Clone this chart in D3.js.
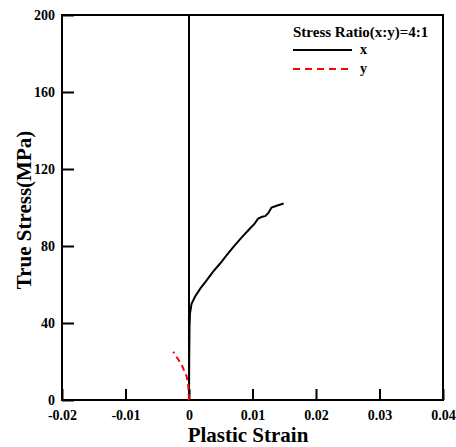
<!DOCTYPE html>
<html>
<head>
<meta charset="utf-8">
<title>True Stress vs Plastic Strain</title>
<style>
  body { margin: 0; background: white; }
  svg { display: block; }
  text { font-family: "Liberation Serif", "Times New Roman", serif; font-weight: bold; fill: black; }
</style>
<script src="https://d3js.org/d3.v7.min.js"></script>
</head>
<body>
<script>
let width = 456
let height = 447
let margin = {left: 62, right: 13, top: 15, bottom: 47}

// data
let xTicks = [-0.02, -0.01, 0, 0.01, 0.02, 0.03, 0.04]
let yTicks = [0, 40, 80, 120, 160, 200]
let zeroLine = [[0, 0], [0, 200]]
let xStrain = [0, 0.00003, 0.00008, 0.00016, 0.0004, 0.00094, 0.0018, 0.0028, 0.0038, 0.0049, 0.006, 0.007, 0.0083, 0.0096, 0.0103, 0.0109, 0.0115, 0.012, 0.0125, 0.013, 0.0138, 0.0149]
let xStress = [0, 20, 38, 45, 50, 53.6, 58, 62.3, 66.7, 70.9, 75.5, 79.6, 84.5, 89.1, 91.5, 94.3, 95.2, 95.5, 97.2, 100.0, 100.9, 102.1]
let yStrain = [0, -0.00004, -0.00011, -0.00036, -0.00115, -0.00247]
let yStress = [0, 3, 6.9, 12.1, 18.2, 25.1]

let svg = d3.select("body").append("svg")
    .attr("width", width)
    .attr("height", height)

let xScale = d3.scaleLinear().domain([-0.02, 0.04]).range([margin.left, width - margin.right])
let yScale = d3.scaleLinear().domain([0, 200]).range([height - margin.bottom, margin.top])

let fmt = d => String(d)

let styleTicks = (g) => {
    g.select(".domain").remove()
    g.selectAll(".tick line").attr("stroke", "black").attr("stroke-width", 2)
    g.selectAll("text")
        .style("font-family", "'Liberation Serif', serif")
        .style("font-weight", "bold")
        .style("font-size", "14px")
        .style("fill", "black")
}

// x axis (ticks inside)
let xAxis = d3.axisBottom(xScale).tickValues(xTicks).tickSizeInner(-11).tickSizeOuter(0).tickPadding(10).tickFormat(fmt)
let gx = svg.append("g")
    .attr("transform", `translate(0,${yScale(0)})`)
    .call(xAxis)
styleTicks(gx)

let yAxis = d3.axisLeft(yScale).tickValues(yTicks).tickSizeInner(-12).tickSizeOuter(0).tickPadding(7).tickFormat(fmt)
let gy = svg.append("g")
    .attr("transform", `translate(${xScale(-0.02)},0)`)
    .call(yAxis)
styleTicks(gy)

// frame
svg.append("rect")
    .attr("x", xScale(-0.02))
    .attr("y", yScale(200))
    .attr("width", xScale(0.04) - xScale(-0.02))
    .attr("height", yScale(0) - yScale(200))
    .attr("fill", "none")
    .attr("stroke", "black")
    .attr("stroke-width", 2)

let line = d3.line().x(d => xScale(d[0])).y(d => yScale(d[1]))

svg.append("path")
    .attr("d", line(zeroLine))
    .attr("fill", "none")
    .attr("stroke", "black")
    .attr("stroke-width", 2)

svg.append("path")
    .attr("d", line(xStrain.map((s, i) => [s, xStress[i]])))
    .attr("fill", "none")
    .attr("stroke", "black")
    .attr("stroke-width", 2)

svg.append("path")
    .attr("d", line(yStrain.map((s, i) => [s, yStress[i]])))
    .attr("fill", "none")
    .attr("stroke", "red")
    .attr("stroke-width", 2)
    .attr("stroke-dasharray", "6,4")

// axis titles
svg.append("text")
    .attr("x", 248)
    .attr("y", 442)
    .attr("text-anchor", "middle")
    .style("font-size", "21px")
    .text("Plastic Strain")

svg.append("text")
    .attr("transform", `translate(31,210) rotate(-90)`)
    .attr("text-anchor", "middle")
    .style("font-size", "21px")
    .text("True Stress(MPa)")

// legend
let legend = svg.append("g")
legend.append("text")
    .attr("x", 293)
    .attr("y", 37)
    .style("font-size", "15px")
    .text("Stress Ratio(x:y)=4:1")
legend.append("line")
    .attr("x1", 293).attr("x2", 352).attr("y1", 50).attr("y2", 50)
    .attr("stroke", "black").attr("stroke-width", 2)
legend.append("text").attr("x", 360).attr("y", 54).style("font-size", "14px").text("x")
legend.append("line")
    .attr("x1", 293).attr("x2", 352).attr("y1", 69).attr("y2", 69)
    .attr("stroke", "red").attr("stroke-width", 2).attr("stroke-dasharray", "7,5")
legend.append("text").attr("x", 360).attr("y", 73).style("font-size", "14px").text("y")
</script>
</body>
</html>
